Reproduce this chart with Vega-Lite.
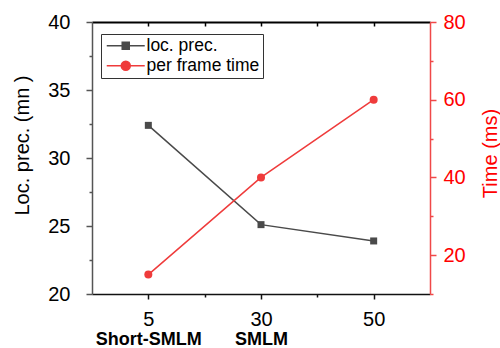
{
  "$schema": "https://vega.github.io/schema/vega-lite/v6.json",
  "width": 338,
  "height": 272,
  "autosize": "none",
  "padding": {"left": 92, "top": 22, "right": 70, "bottom": 54},
  "background": "white",
  "config": {
    "font": "Liberation Sans",
    "view": {"stroke": null},
    "axis": {"grid": false, "labelFont": "Liberation Sans", "titleFont": "Liberation Sans", "labelFontSize": 20, "titleFontSize": 20, "titleFontWeight": "normal", "domainWidth": 1.5, "tickWidth": 1.5, "labelColor": "#000000", "titleColor": "#000000", "labelFlush": false, "labelOverlap": false}
  },
  "data": {
    "values": [
      {"series": "loc. prec.", "x": 1, "value": 32.4},
      {"series": "loc. prec.", "x": 2, "value": 25.1},
      {"series": "loc. prec.", "x": 3, "value": 23.9},
      {"series": "per frame time", "x": 1, "value": 15},
      {"series": "per frame time", "x": 2, "value": 40},
      {"series": "per frame time", "x": 3, "value": 60}
    ]
  },
  "layer": [
    {
      "transform": [{"filter": "datum.series == 'loc. prec.'"}],
      "mark": {"type": "line", "strokeWidth": 1.5},
      "encoding": {
        "x": {"field": "x", "type": "quantitative", "scale": {"domain": [0.5, 3.5], "nice": false, "zero": false},
          "axis": {"orient": "bottom", "title": null, "values": [1, 1.5, 2, 2.5, 3], "labelExpr": "datum.value == 1 ? '5' : datum.value == 2 ? '30' : datum.value == 3 ? '50' : ''", "tickSize": {"condition": {"test": "datum.value % 1 == 0", "value": 5}, "value": 3}, "labelPadding": 10, "domainColor": "#111111", "tickColor": "#111111"}},
        "y": {"field": "value", "type": "quantitative", "scale": {"domain": [20, 40], "nice": false, "zero": false},
          "axis": {"orient": "left", "title": "Loc. prec. (mn )", "values": [20, 22.5, 25, 27.5, 30, 32.5, 35, 37.5, 40], "labelExpr": "datum.value % 5 == 0 ? datum.label : ''", "tickSize": {"condition": {"test": "datum.value % 5 == 0", "value": 6}, "value": 3}, "labelPadding": 16, "domainColor": "#555555", "tickColor": "#555555", "titleAngle": -90, "titleX": -70, "titleY": 123, "titleAlign": "center", "titleBaseline": "middle"}},
        "color": {"field": "series", "type": "nominal", "scale": {"domain": ["loc. prec.", "per frame time"], "range": ["#4a4a4a", "#ef3b3b"]},
          "legend": {"title": null, "orient": "none", "legendX": 9, "legendY": 12, "padding": 3, "strokeColor": "#333333", "fillColor": "#ffffff", "labelFont": "Liberation Sans", "labelFontSize": 17.5, "labelColor": "#000000", "labelOffset": 25, "rowPadding": 1, "symbolSize": 144,
            "encode": {"symbols": {"update": {
              "shape": {"signal": "datum.value == 'loc. prec.' ? 'M-1,0H5.33M1.58,-0.58H2.75V0.58H1.58Z' : 'M-1,0H5.33M2.92,0A0.75,0.75,0,1,1,1.42,0A0.75,0.75,0,1,1,2.92,0Z'"},
              "fill": {"signal": "datum.value == 'loc. prec.' ? '#4a4a4a' : '#ef3b3b'"},
              "stroke": {"signal": "datum.value == 'loc. prec.' ? '#4a4a4a' : '#ef3b3b'"},
              "strokeWidth": {"value": 1.5},
              "opacity": {"value": 1}
            }}}}}
      }
    },
    {
      "transform": [{"filter": "datum.series == 'per frame time'"}],
      "layer": [
        {"mark": {"type": "line", "strokeWidth": 1.5}},
        {"mark": {"type": "point", "shape": "circle", "filled": true, "size": 64, "opacity": 1}}
      ],
      "encoding": {
        "x": {"field": "x", "type": "quantitative", "scale": {"domain": [0.5, 3.5], "nice": false, "zero": false},
          "axis": {"orient": "top", "title": null, "values": [1, 1.5, 2, 2.5, 3], "labels": false, "tickSize": -4, "domainColor": "#000000", "tickColor": "#000000", "domainWidth": 2}},
        "y": {"field": "value", "type": "quantitative", "scale": {"domain": [10, 80], "nice": false, "zero": false},
          "axis": {"orient": "right", "title": "Time (ms)", "values": [10, 20, 30, 40, 50, 60, 70, 80], "labelExpr": "datum.value % 20 == 0 ? datum.label : ''", "tickSize": {"condition": {"test": "datum.value % 20 == 0", "value": 6}, "value": 3}, "labelPadding": 7, "domainColor": "#f04848", "tickColor": "#f04848", "labelColor": "#ff0000", "titleColor": "#ff0000", "titleAngle": 270, "titleX": 60, "titleY": 131, "titleAlign": "center", "titleBaseline": "middle"}},
        "color": {"field": "series", "type": "nominal"}
      }
    },
    {
      "transform": [{"filter": "datum.series == 'loc. prec.'"}],
      "mark": {"type": "point", "shape": "square", "filled": true, "size": 49, "opacity": 1},
      "encoding": {
        "x": {"field": "x", "type": "quantitative", "scale": {"domain": [0.5, 3.5], "nice": false, "zero": false},
          "axis": {"orient": "bottom", "title": null, "values": [1, 2], "labelExpr": "datum.value == 1 ? 'Short-SMLM' : 'SMLM'", "ticks": false, "domain": false, "labelPadding": 36, "labelFontWeight": "bold", "labelFontSize": 18}},
        "y": {"field": "value", "type": "quantitative", "scale": {"domain": [20, 40], "nice": false, "zero": false}, "axis": null},
        "color": {"field": "series", "type": "nominal"}
      }
    }
  ],
  "resolve": {"scale": {"y": "independent"}, "axis": {"x": "independent", "y": "independent"}}
}
